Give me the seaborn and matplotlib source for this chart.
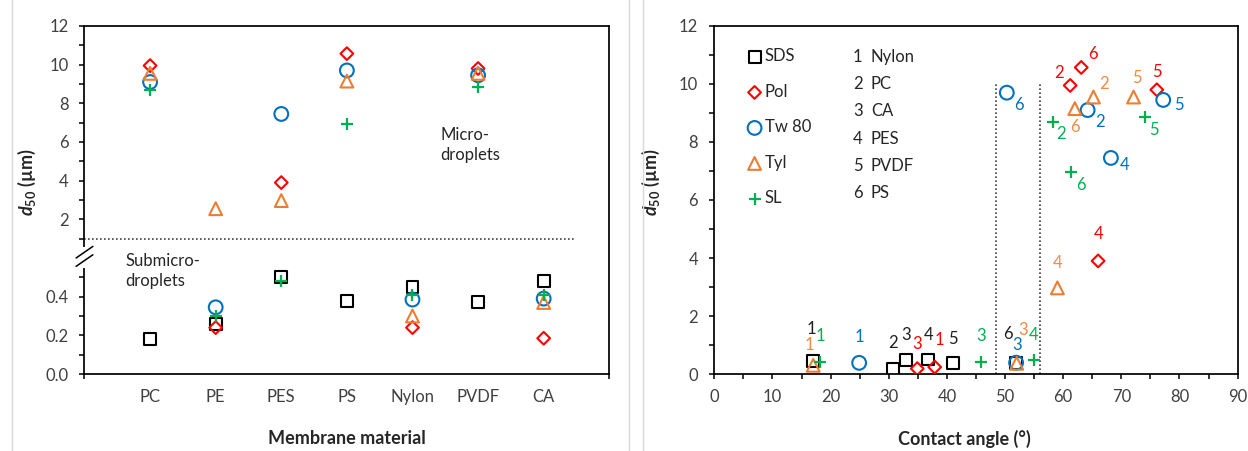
import numpy as np
import pandas as pd
import matplotlib
matplotlib.use('Agg')
import matplotlib.pyplot as plt
from matplotlib.lines import Line2D
import seaborn as sns

# ---------------- data ----------------
membranes = ['PC', 'PE', 'PES', 'PS', 'Nylon', 'PVDF', 'CA']
surfactants = ['SDS', 'Pol', 'Tw 80', 'Tyl', 'SL']
d50_sds = [0.18, 0.26, 0.50, 0.38, 0.45, 0.37, 0.48]
d50_pol = [9.95, 0.24, 3.90, 10.57, 0.24, 9.80, 0.185]
d50_tw80 = [9.10, 0.345, 7.45, 9.70, 0.385, 9.45, 0.39]
d50_tyl = [9.55, 2.55, 2.97, 9.15, 0.30, 9.55, 0.37]
d50_sl = [8.70, 0.30, 0.48, 6.95, 0.41, 8.85, 0.41]

numbered = ['Nylon', 'PC', 'CA', 'PES', 'PVDF', 'PS']
ca_sds = [17.0, 30.8, 32.9, 36.8, 41.0, 51.9]
ca_pol = [37.9, 61.2, 34.9, 66.0, 76.1, 63.1]
ca_tw80 = [24.9, 64.2, 51.9, 68.2, 77.2, 50.3]
ca_tyl = [17.0, 65.2, 52.0, 59.0, 72.1, 62.0]
ca_sl = [18.1, 58.2, 45.8, 54.9, 74.1, 61.3]

split_d50 = 1.0
ca_bounds = [48.5, 56.0]
ca_line_top = 10.0

d50_all = {'SDS': d50_sds, 'Pol': d50_pol, 'Tw 80': d50_tw80, 'Tyl': d50_tyl, 'SL': d50_sl}
ca_all = {'SDS': ca_sds, 'Pol': ca_pol, 'Tw 80': ca_tw80, 'Tyl': ca_tyl, 'SL': ca_sl}

# ---------------- styles ----------------
styles = {
    'SDS':   dict(marker='s', color='#000000', s=74, lab='#202020'),
    'Pol':   dict(marker='D', color='#FF0000', s=42, lab='#FF0000'),
    'Tw 80': dict(marker='o', color='#0070C0', s=98, lab='#0070C0'),
    'Tyl':   dict(marker='^', color='#ED7D31', s=85, lab='#F08A45'),
    'SL':    dict(marker='+', color='#00B050', s=80, lab='#00B050'),
}
# label offsets (pixels) for numbers 1..6 in right panel
offsets = {
    'SDS':   [(-2, 32), (0, 26), (0, 25), (0, 25), (0, 24), (-8, 29)],
    'Pol':   [(5, 27), (-11, 12), (0, 25), (0, 27), (0, 18), (12, 13)],
    'Tw 80': [(0, 26), (12, -12), (1, 18), (14, -7), (16, -5), (12, -12)],
    'Tyl':   [(-4, 20), (11, 13), (6, 33), (0, 25), (3, 19), (0, -18)],
    'SL':    [(1, 26), (8, -12), (0, 26), (0, 25), (9, -13), (10, -13)],
}

sns.set_style('ticks')
plt.rcParams['font.family'] = ['Lato', 'DejaVu Sans']
plt.rcParams['mathtext.fontset'] = 'custom'
plt.rcParams['mathtext.it'] = 'Lato:italic:bold'
plt.rcParams['mathtext.rm'] = 'Lato:bold'
plt.rcParams['mathtext.bf'] = 'Lato:bold'
plt.rcParams['axes.edgecolor'] = 'black'
plt.rcParams['xtick.color'] = 'black'
plt.rcParams['ytick.color'] = 'black'

TICK_C = '#404040'
FS = 12
LFS = 13

fig = plt.figure(figsize=(12.48, 4.51), dpi=100)
ax1 = fig.add_axes([0.0677, 0.1707, 0.4205, 0.7717])
ax2 = fig.add_axes([0.5724, 0.1707, 0.4193, 0.7717])

# long data
rows = []
for sname in surfactants:
    for i, m in enumerate(membranes):
        rows.append(dict(surf=sname, membrane=m, pos=i + 1, d50=d50_all[sname][i]))
df_left = pd.DataFrame(rows)
rows = []
for sname in surfactants:
    for j, m in enumerate(numbered):
        rows.append(dict(surf=sname, membrane=m, num=j + 1, ca=ca_all[sname][j],
                         d50=d50_all[sname][membranes.index(m)]))
df_right = pd.DataFrame(rows)


def draw(ax, data, x, label=None):
    for sname in surfactants:
        st = styles[sname]
        sub = data[data['surf'] == sname]
        if st['marker'] == '+':
            sns.scatterplot(data=sub, x=x, y='d50', marker='+', color=st['color'],
                            s=st['s'], linewidth=1.6, ax=ax, label=sname if label else None,
                            legend=False, zorder=3)
        else:
            sns.scatterplot(data=sub, x=x, y='d50', marker=st['marker'], s=st['s'],
                            facecolor='none', edgecolor=st['color'], linewidth=1.5, ax=ax,
                            label=sname if label else None, legend=False, zorder=3)


# ---------------- left panel (broken y axis) ----------------
def fwd(v):
    v = np.asarray(v, dtype=float)
    return np.where(v <= 2 / 3, 10 * v, v + 6)


def inv(u):
    u = np.asarray(u, dtype=float)
    return np.where(u <= 20 / 3, u / 10, u - 6)


ax1.set_yscale('function', functions=(fwd, inv))
draw(ax1, df_left, 'pos')
ax1.set_xlim(0, 8)
ax1.set_ylim(0, 12)
ax1.set_xticks(np.arange(1, len(membranes) + 1), membranes)
ax1.set_xticks([0, 2, 4, 6, 8], minor=True)
ax1.set_yticks([0, 0.2, 0.4, 2, 4, 6, 8, 10, 12],
               ['0.0', '0.2', '0.4', '2', '4', '6', '8', '10', '12'])
ax1.set_yticks([0.1, 0.3, 0.5, 1, 3, 5, 7, 9, 11], minor=True)
ax1.tick_params(axis='x', which='major', length=0, pad=10.5, labelsize=FS, labelcolor=TICK_C)
ax1.tick_params(axis='x', which='minor', length=3.6, width=1.1, direction='out')
ax1.tick_params(axis='y', which='both', length=3.6, width=1.1, direction='out', pad=8,
                labelsize=FS, labelcolor=TICK_C)
ax1.axhline(split_d50, xmin=0, xmax=7.5 / 8, color='#404040', lw=1.2, ls=(0, (1, 1.4)), zorder=1)
ax1.spines['left'].set_visible(False)
for sp in ['top', 'right', 'bottom']:
    ax1.spines[sp].set_linewidth(1.25)
ax1.plot([0, 0], [0, 0.304], transform=ax1.transAxes, color='black', lw=1.25, clip_on=False,
         solid_capstyle='butt')
ax1.plot([0, 0], [0.366, 1], transform=ax1.transAxes, color='black', lw=1.25, clip_on=False,
         solid_capstyle='butt')
for yc in (0.326, 0.350):
    ax1.plot([-0.016, 0.016], [yc - 0.0167, yc + 0.0167], transform=ax1.transAxes,
             color='black', lw=1.1, clip_on=False)
ax1.text(5.42, 5.85, 'Micro-\ndroplets', fontsize=FS, color='#262626', ha='left', va='center',
         linespacing=1.3)
ax1.text(0.62, 0.533, 'Submicro-\ndroplets', fontsize=FS, color='#262626', ha='left', va='center',
         linespacing=1.3)
ax1.set_xlabel('Membrane material', fontsize=LFS, fontweight='bold')
ax1.set_ylabel(r'$d_{\mathrm{50}}$ (µm)', fontsize=LFS, fontweight='bold')
ax1.xaxis.set_label_coords(0.5, -0.16)
ax1.yaxis.set_label_coords(-0.088, 0.55)

# ---------------- right panel ----------------
draw(ax2, df_right, 'ca', label=True)
ax2.set_xlim(0, 90)
ax2.set_ylim(0, 12)
ax2.set_xticks(np.arange(0, 91, 10))
ax2.set_xticks(np.arange(5, 90, 10), minor=True)
ax2.set_yticks(np.arange(0, 13, 2))
ax2.set_yticks(np.arange(1, 12, 2), minor=True)
ax2.tick_params(axis='x', which='both', length=3.6, width=1.1, direction='out', pad=7,
                labelsize=FS, labelcolor=TICK_C)
ax2.tick_params(axis='y', which='both', length=3.6, width=1.1, direction='out', pad=8,
                labelsize=FS, labelcolor=TICK_C)
for sp in ax2.spines.values():
    sp.set_linewidth(1.25)
for xb in ca_bounds:
    ax2.plot([xb, xb], [0, ca_line_top], color='#404040', lw=1.2, ls=(0, (1, 1.4)), zorder=1)

for sname in surfactants:
    sub = df_right[df_right['surf'] == sname]
    for (_, r), (dx, dy) in zip(sub.iterrows(), offsets[sname]):
        ax2.annotate(str(int(r['num'])), (r['ca'], r['d50']), xytext=(dx, dy),
                     textcoords='offset pixels', ha='center', va='center',
                     color=styles[sname]['lab'], fontsize=FS)

leg = ax2.legend(loc='upper left', bbox_to_anchor=(0.045, 0.955), frameon=False,
                 fontsize=FS, handletextpad=0.0, labelspacing=1.17, handlelength=1.2,
                 borderaxespad=0, labelcolor='#262626')
ny = 0.911
for j, m in enumerate(numbered):
    ax2.text(0.265, ny - j * 0.0782, str(j + 1), transform=ax2.transAxes, fontsize=FS,
             color='#262626', ha='left', va='center')
    ax2.text(0.299, ny - j * 0.0782, m, transform=ax2.transAxes, fontsize=FS,
             color='#262626', ha='left', va='center')

ax2.set_xlabel('Contact angle (°)', fontsize=LFS, fontweight='bold')
ax2.set_ylabel(r'$d_{\mathrm{50}}$ (µm)', fontsize=LFS, fontweight='bold')
ax2.xaxis.set_label_coords(0.478, -0.16)
ax2.yaxis.set_label_coords(-0.1, 0.55)

# chart borders (light gray)
for xp in (12, 629, 643):
    fig.add_artist(Line2D([xp / 1248, xp / 1248], [0, 1], color='#D9D9D9', lw=1.0))

fig.savefig('out.png', dpi=100)
